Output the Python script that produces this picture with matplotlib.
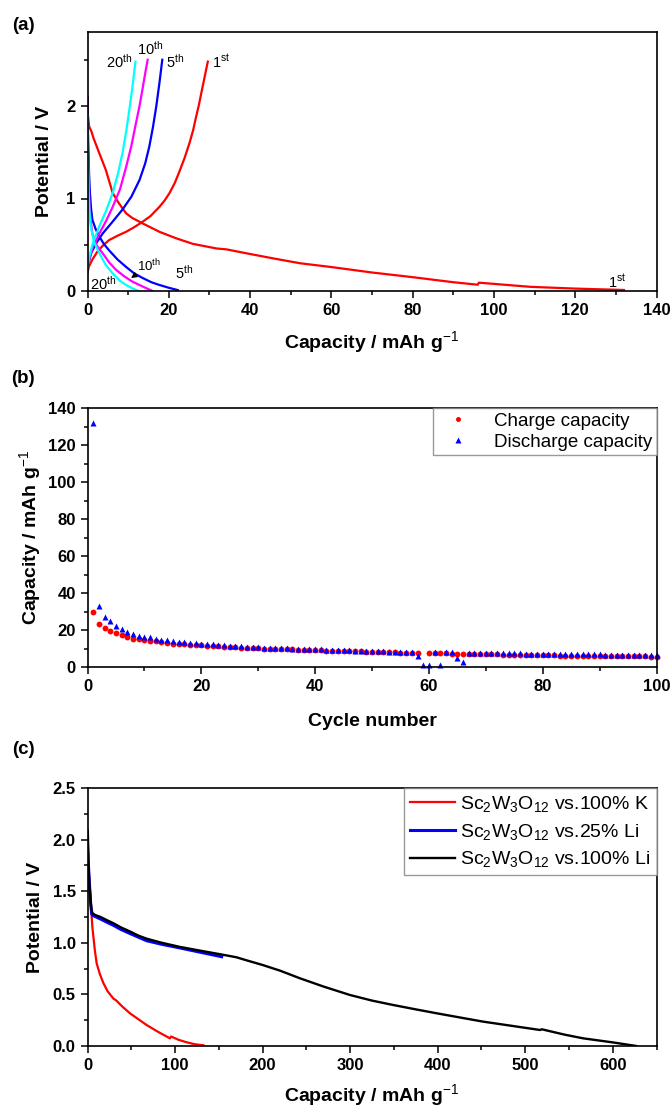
import numpy as np
import matplotlib
matplotlib.use("Agg")
import matplotlib.pyplot as plt
from matplotlib.ticker import MultipleLocator, FormatStrFormatter

plt.rcParams['font.family'] = ['Liberation Sans', 'DejaVu Sans']
plt.rcParams['mathtext.fontset'] = 'custom'
plt.rcParams['mathtext.rm'] = 'Liberation Sans'
plt.rcParams['mathtext.it'] = 'Liberation Sans:italic'
plt.rcParams['mathtext.bf'] = 'Liberation Sans:bold'

# ---------------- Panel (a) data ----------------
c1_dis_x = [0, 0.1, 0.4, 1.0, 1.5, 2.9, 4.5, 6.2, 7.4, 8.5, 9.5, 11, 13.6, 17.7, 21.8, 25.9, 31.7, 34.2, 40, 46, 52.3, 59.8, 70, 80.3, 90, 96.0, 96.3, 109, 120, 132]
c1_dis_y = [2.1, 1.9, 1.78, 1.72, 1.65, 1.49, 1.31, 1.06, 0.97, 0.9, 0.84, 0.79, 0.73, 0.64, 0.57, 0.51, 0.46, 0.45, 0.40, 0.35, 0.30, 0.26, 0.20, 0.148, 0.095, 0.068, 0.09, 0.045, 0.026, 0.011]
c1_chg_x = [0, 0.3, 1.2, 2.5, 4.0, 5.3, 7.5, 9.5, 11.5, 13.6, 15.5, 17.7, 19.0, 20.2, 21.5, 22.6, 23.9, 25.1, 26.0, 26.7, 27.4, 28.0, 28.8, 29.6]
c1_chg_y = [0.19, 0.26, 0.34, 0.43, 0.50, 0.55, 0.60, 0.64, 0.69, 0.75, 0.81, 0.91, 0.98, 1.06, 1.17, 1.29, 1.44, 1.6, 1.74, 1.88, 2.01, 2.14, 2.31, 2.48]

c5_dis_x = [0, 0.05, 0.12, 0.25, 0.4, 0.6, 0.9, 1.2, 2.0, 2.9, 4.0, 5.3, 7.4, 9.5, 11.5, 13.6, 15.7, 17.7, 20.0, 22.2]
c5_dis_y = [2.1, 1.9, 1.7, 1.49, 1.25, 1.06, 0.88, 0.77, 0.67, 0.59, 0.51, 0.44, 0.34, 0.26, 0.19, 0.14, 0.095, 0.065, 0.035, 0.01]
c5_chg_x = [0, 0.4, 1.0, 2.2, 3.7, 6.0, 8.6, 10.8, 12.8, 14.2, 15.2, 16.1, 16.9, 17.7, 18.4]
c5_chg_y = [0.245, 0.33, 0.42, 0.52, 0.62, 0.74, 0.88, 1.02, 1.2, 1.38, 1.56, 1.77, 1.99, 2.25, 2.5]

c10_dis_x = [0, 0.05, 0.12, 0.25, 0.45, 0.7, 1.2, 2.3, 3.7, 5.3, 7.0, 9.0, 11.1, 13.5, 16.0]
c10_dis_y = [2.03, 1.8, 1.55, 1.25, 0.95, 0.78, 0.62, 0.49, 0.41, 0.31, 0.23, 0.16, 0.10, 0.05, 0.0]
c10_chg_x = [0, 0.4, 1.2, 2.9, 4.6, 6.2, 8.0, 9.5, 10.8, 11.9, 12.8, 13.6, 14.3, 14.8]
c10_chg_y = [0.26, 0.34, 0.46, 0.62, 0.76, 0.91, 1.1, 1.34, 1.57, 1.81, 2.0, 2.2, 2.38, 2.5]

c20_dis_x = [0, 0.05, 0.12, 0.25, 0.45, 0.8, 1.6, 2.9, 4.5, 6.2, 8.0, 9.5, 11.0, 12.6]
c20_dis_y = [1.9, 1.65, 1.4, 1.12, 0.88, 0.7, 0.53, 0.41, 0.28, 0.19, 0.11, 0.065, 0.03, 0.0]
c20_chg_x = [0, 0.4, 1.2, 2.9, 4.6, 6.2, 7.5, 8.6, 9.5, 10.3, 11.1, 11.8]
c20_chg_y = [0.26, 0.36, 0.5, 0.7, 0.87, 1.06, 1.27, 1.49, 1.72, 1.96, 2.22, 2.48]

# ---------------- Panel (b) data ----------------
cycles = list(range(1, 101))
charge_cap = [29.6, 23.1, 20.9, 19.6, 18.2, 17.3, 16.0, 15.3, 14.9, 14.6,
              14.2, 13.8, 13.4, 13.0, 12.7, 12.4, 12.2, 12.0, 11.9, 11.7,
              11.5, 11.3, 11.1, 11.0, 10.8, 10.7, 10.5, 10.4, 10.2, 10.1,
              10.0, 9.9, 9.8, 9.7, 9.6, 9.5, 9.4, 9.3, 9.2, 9.1,
              9.0, 8.9, 8.8, 8.7, 8.6, 8.5, 8.4, 8.4, 8.3, 8.2,
              8.1, 8.0, 7.9, 7.9, 7.8, 7.7, 7.6, 7.5, np.nan, 7.5,
              7.4, 7.3, 7.3, 7.2, 7.1, 7.1, 7.0, 7.0, 6.9, 6.9,
              6.8, 6.8, 6.7, 6.7, 6.6, 6.6, 6.5, 6.5, 6.4, 6.4,
              6.3, 6.3, 6.2, 6.2, 6.1, 6.1, 6.0, 6.0, 6.0, 5.9,
              5.9, 5.9, 5.8, 5.8, 5.8, 5.7, 5.7, 5.7, 5.6, 5.6]
discharge_cap = [132.0, 33.1, 27.2, 24.7, 22.2, 20.4, 19.1, 17.7, 16.8, 16.4,
                 16.0, 15.3, 14.7, 14.4, 13.9, 13.6, 13.3, 13.1, 12.8, 12.6,
                 12.4, 12.2, 12.0, 11.8, 11.6, 11.4, 11.2, 11.0, 10.8, 10.6,
                 10.5, 10.4, 10.3, 10.2, 10.1, 10.0, 9.9, 9.8, 9.7, 9.6,
                 9.5, 9.4, 9.3, 9.2, 9.1, 9.0, 8.9, 8.8, 8.7, 8.6,
                 8.5, 8.4, 8.3, 8.2, 8.1, 8.0, 7.9, 6.1, 1.0, 1.0,
                 8.0, 1.0, 7.9, 7.9, 5.0, 2.5, 7.7, 7.7, 7.6, 7.6,
                 7.5, 7.5, 7.4, 7.4, 7.3, 7.3, 7.2, 7.2, 7.2, 7.1,
                 7.1, 7.0, 7.0, 7.0, 6.9, 6.9, 6.9, 6.8, 6.8, 6.8,
                 6.7, 6.7, 6.7, 6.6, 6.6, 6.6, 6.5, 6.5, 6.5, 6.5]

# ---------------- Panel (c) data ----------------
k100_x = [0, 1, 2, 2.9, 3.8, 4.8, 5.6, 6.7, 8.5, 10.5, 14, 18.1, 23, 29.5, 33, 40, 48.5, 58, 67.6, 80, 94.2, 95.5, 104, 113.3, 122, 132.3]
k100_y = [2.09, 1.77, 1.6, 1.51, 1.38, 1.25, 1.15, 1.06, 0.92, 0.80, 0.70, 0.61, 0.53, 0.46, 0.44, 0.38, 0.317, 0.26, 0.203, 0.14, 0.074, 0.092, 0.06, 0.036, 0.018, 0.007]
li25_x = [0, 0.5, 1, 2, 2.9, 3.8, 4.8, 6, 8.6, 15, 22, 29.5, 38, 48.5, 58, 67.6, 85, 105.7, 128, 153.3]
li25_y = [2.07, 1.9, 1.76, 1.6, 1.47, 1.36, 1.28, 1.265, 1.255, 1.23, 1.2, 1.17, 1.13, 1.09, 1.055, 1.02, 0.985, 0.95, 0.91, 0.865]
li100_x = [0, 0.5, 1, 2, 2.9, 3.8, 4.8, 6, 8.6, 15, 22, 29.5, 38, 48.5, 58, 67.6, 85, 105.7, 128, 151, 170, 181.8, 200, 220, 242.7, 270, 299.9, 325, 349.4, 375, 398.9, 425, 452, 485, 517, 519, 545, 566.4, 600, 627]
li100_y = [2.09, 1.9, 1.77, 1.6, 1.48, 1.38, 1.31, 1.285, 1.27, 1.25, 1.22, 1.19, 1.15, 1.11, 1.07, 1.04, 1.0, 0.96, 0.925, 0.89, 0.86, 0.83, 0.785, 0.73, 0.656, 0.575, 0.494, 0.44, 0.397, 0.355, 0.317, 0.277, 0.236, 0.195, 0.155, 0.162, 0.11, 0.074, 0.035, 0.0]

fig = plt.figure(figsize=(6.71, 11.1), dpi=100)
W, H = 671.0, 1110.0

def mkax(left, right, top, bottom):
    return fig.add_axes([left / W, 1 - bottom / H, (right - left) / W, (bottom - top) / H])

def style(ax):
    for s in ax.spines.values():
        s.set_linewidth(1.2)
    ax.tick_params(which='both', direction='out', top=False, right=False, width=1.1, labelsize=12)
    ax.tick_params(which='major', length=5)
    ax.tick_params(which='minor', length=3)
    for lab in ax.get_xticklabels() + ax.get_yticklabels():
        lab.set_fontweight('bold')

LBL = dict(fontsize=14, fontweight='bold')

# ---- (a)
ax1 = mkax(87.5, 656.5, 32, 291)
lw = 1.6
ax1.plot(c1_dis_x, c1_dis_y, color='#ff0000', lw=lw)
ax1.plot(c1_chg_x, c1_chg_y, color='#ff0000', lw=lw)
ax1.plot(c5_dis_x, c5_dis_y, color='#0000ff', lw=lw)
ax1.plot(c5_chg_x, c5_chg_y, color='#0000ff', lw=lw)
ax1.plot(c10_dis_x, c10_dis_y, color='#ff00ff', lw=lw)
ax1.plot(c10_chg_x, c10_chg_y, color='#ff00ff', lw=lw)
ax1.plot(c20_dis_x, c20_dis_y, color='#00ffff', lw=lw)
ax1.plot(c20_chg_x, c20_chg_y, color='#00ffff', lw=lw)
ax1.set_xlim(0, 140)
ax1.set_ylim(0, 2.8)
ax1.xaxis.set_major_locator(MultipleLocator(20))
ax1.xaxis.set_minor_locator(MultipleLocator(10))
ax1.yaxis.set_major_locator(MultipleLocator(1))
ax1.yaxis.set_minor_locator(MultipleLocator(0.5))
ax1.set_xlabel(r'Capacity / mAh g$^{-1}$', labelpad=8, **LBL)
ax1.set_ylabel('Potential / V', labelpad=10, **LBL)
style(ax1)
af = 10.5
ax1.text(30.6, 2.48, r'1$^{\mathrm{st}}$', fontsize=af, va='center', ha='left')
ax1.text(19.2, 2.48, r'5$^{\mathrm{th}}$', fontsize=af, va='center', ha='left')
ax1.text(12.3, 2.62, r'10$^{\mathrm{th}}$', fontsize=af, va='center', ha='left')
ax1.text(11.0, 2.48, r'20$^{\mathrm{th}}$', fontsize=af, va='center', ha='right')
ax1.text(0.6, 0.08, r'20$^{\mathrm{th}}$', fontsize=af, va='center', ha='left')
ax1.text(21.5, 0.2, r'5$^{\mathrm{th}}$', fontsize=af, va='center', ha='left')
ax1.text(128, 0.1, r'1$^{\mathrm{st}}$', fontsize=af, va='center', ha='left')
ax1.annotate(r'10$^{\mathrm{th}}$', xy=(10.7, 0.14), xytext=(12.1, 0.27), fontsize=af - 1, va='center', ha='left',
             arrowprops=dict(arrowstyle='-|>', color='black', lw=1.0, mutation_scale=8, shrinkA=0, shrinkB=0))
fig.text(23 / W, 1 - 25 / H, '(a)', fontsize=13.5, fontweight='bold', ha='center', va='center')

# ---- (b)
ax2 = mkax(87.5, 656.5, 408, 667)
ax2.plot(cycles, charge_cap, 'o', color='#ff0000', ms=4.2, mec='none', label='Charge capacity', clip_on=False)
ax2.plot(cycles, discharge_cap, '^', color='#0000ff', ms=4.5, mec='none', label='Discharge capacity', clip_on=False)
ax2.set_xlim(0, 100)
ax2.set_ylim(0, 140)
ax2.xaxis.set_major_locator(MultipleLocator(20))
ax2.xaxis.set_minor_locator(MultipleLocator(10))
ax2.yaxis.set_major_locator(MultipleLocator(20))
ax2.yaxis.set_minor_locator(MultipleLocator(10))
ax2.set_xlabel('Cycle number', labelpad=14, **LBL)
ax2.set_ylabel(r'Capacity / mAh g$^{-1}$', labelpad=4, **LBL)
style(ax2)
leg2 = ax2.legend(loc='upper right', fontsize=13.5, frameon=True, fancybox=False, edgecolor='#808080',
                  borderaxespad=0.0, handlelength=2.2, handletextpad=0.8, labelspacing=0.2,
                  borderpad=0.25, markerscale=0.85)
leg2.get_frame().set_linewidth(1.0)
fig.text(23 / W, 1 - 378 / H, '(b)', fontsize=13.5, fontweight='bold', ha='center', va='center')

# ---- (c)
ax3 = mkax(87.5, 656.5, 788, 1046)
ax3.plot(k100_x, k100_y, color='#ff0000', lw=1.6, label=r'Sc$_2$W$_3$O$_{12}$ vs.100% K')
ax3.plot(li25_x, li25_y, color='#0000ff', lw=2.2, label=r'Sc$_2$W$_3$O$_{12}$ vs.25% Li')
ax3.plot(li100_x, li100_y, color='#000000', lw=1.7, label=r'Sc$_2$W$_3$O$_{12}$ vs.100% Li')
ax3.set_xlim(0, 650)
ax3.set_ylim(0, 2.5)
ax3.xaxis.set_major_locator(MultipleLocator(100))
ax3.xaxis.set_minor_locator(MultipleLocator(50))
ax3.yaxis.set_major_locator(MultipleLocator(0.5))
ax3.yaxis.set_minor_locator(MultipleLocator(0.25))
ax3.yaxis.set_major_formatter(FormatStrFormatter('%.1f'))
ax3.set_xlabel(r'Capacity / mAh g$^{-1}$', labelpad=7, **LBL)
ax3.set_ylabel('Potential / V', labelpad=6, **LBL)
style(ax3)
leg3 = ax3.legend(loc='upper right', fontsize=14, frameon=True, fancybox=False, edgecolor='#808080',
                  borderaxespad=0.0, handlelength=2.3, handletextpad=0.3, labelspacing=0.4,
                  borderpad=0.3)
leg3.get_frame().set_linewidth(1.0)
fig.text(23 / W, 1 - 750 / H, '(c)', fontsize=13.5, fontweight='bold', ha='center', va='center')

fig.savefig('out.png', dpi=100)
